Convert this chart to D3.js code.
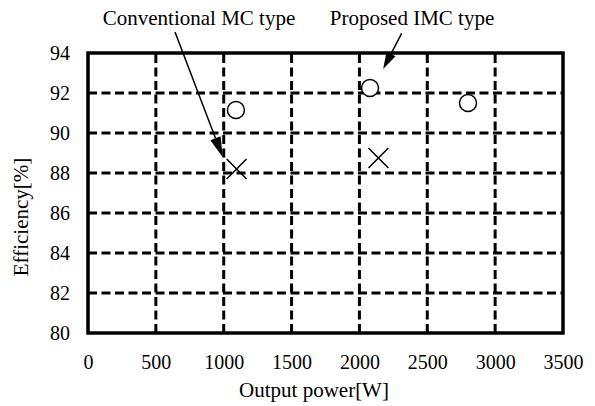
<!DOCTYPE html>
<meta charset="utf-8">
<style>
body { margin: 0; background: #fff; }
text { font-family: "Liberation Serif", "Times New Roman", serif; fill: #000; }
.grid { stroke: #000; stroke-width: 3px; stroke-dasharray: 9,4.5; }
</style>
<body>
<script src="https://d3js.org/d3.v7.min.js"></script>
<script>

// data
var xTicks = [0, 500, 1000, 1500, 2000, 2500, 3000, 3500];
var yTicks = [80, 82, 84, 86, 88, 90, 92, 94];

var proposedPower = [1090, 2078, 2800];
var proposedEff   = [91.15, 92.25, 91.5];

var convPower = [1095, 2140];
var convEff   = [88.2, 88.75];

// annotation arrows: [startPower, startEff, tipPower, tipEff]
var convArrow = [641, 95.05, 992, 88.8];
var propArrow = [2311, 94.98, 2175, 93.2];

var width = 595, height = 406;
var margin = {top: 53, right: 32, bottom: 73, left: 88};

var svg = d3.select("body").append("svg")
    .attr("width", width)
    .attr("height", height);

var x = d3.scaleLinear().domain([0, 3500]).range([margin.left, width - margin.right]);
var y = d3.scaleLinear().domain([80, 94]).range([height - margin.bottom, margin.top]);

// dashed grid
svg.append("g").selectAll("line")
    .data(yTicks.slice(1, -1))
  .enter().append("line")
    .attr("class", "grid")
    .attr("x1", x(0)).attr("x2", x(3500))
    .attr("y1", function(d) { return y(d); })
    .attr("y2", function(d) { return y(d); });

svg.append("g").selectAll("line")
    .data(xTicks.slice(1, -1))
  .enter().append("line")
    .attr("class", "grid")
    .attr("y1", y(80)).attr("y2", y(94))
    .attr("x1", function(d) { return x(d); })
    .attr("x2", function(d) { return x(d); });

// frame
svg.append("rect")
    .attr("x", x(0)).attr("y", y(94))
    .attr("width", x(3500) - x(0))
    .attr("height", y(80) - y(94))
    .attr("fill", "none")
    .attr("stroke", "#000")
    .attr("stroke-width", 3.5);

// axes (labels only)
var xAxis = svg.append("g")
    .attr("transform", "translate(0," + y(80) + ")")
    .call(d3.axisBottom(x).tickValues(xTicks).tickSize(0).tickPadding(22).tickFormat(d3.format("d")));
var yAxis = svg.append("g")
    .attr("transform", "translate(" + x(0) + ",0)")
    .call(d3.axisLeft(y).tickValues(yTicks).tickSize(0).tickPadding(18).tickFormat(d3.format("d")));
[xAxis, yAxis].forEach(function(a) {
  a.select(".domain").remove();
  a.selectAll("text").style("font-family", "Liberation Serif").style("font-size", "20px");
});

// axis titles
svg.append("text")
    .attr("x", 314).attr("y", 397)
    .attr("text-anchor", "middle")
    .style("font-size", "21px")
    .text("Output power[W]");

svg.append("text")
    .attr("transform", "translate(28,217) rotate(-90)")
    .attr("text-anchor", "middle")
    .style("font-size", "21px")
    .text("Efficiency[%]");

// proposed IMC points (circles)
svg.append("g").selectAll("circle")
    .data(proposedPower)
  .enter().append("circle")
    .attr("cx", function(d) { return x(d); })
    .attr("cy", function(d, i) { return y(proposedEff[i]); })
    .attr("r", 8.5)
    .attr("fill", "#fff")
    .attr("stroke", "#000")
    .attr("stroke-width", 1.5);

// conventional MC points (crosses)
var cross = d3.symbol().type(d3.symbolX).size(260);
svg.append("g").selectAll("path")
    .data(convPower)
  .enter().append("path")
    .attr("transform", function(d, i) { return "translate(" + x(d) + "," + y(convEff[i]) + ")"; })
    .attr("d", cross)
    .attr("fill", "none")
    .attr("stroke", "#000")
    .attr("stroke-width", 1.5);

// annotation arrows
function arrow(a, headLen, headW) {
  var x0 = x(a[0]), y0 = y(a[1]), x1 = x(a[2]), y1 = y(a[3]);
  var dx = x1 - x0, dy = y1 - y0, len = Math.sqrt(dx * dx + dy * dy);
  var ux = dx / len, uy = dy / len;
  var bx = x1 - ux * headLen, by = y1 - uy * headLen;
  svg.append("line")
      .attr("x1", x0).attr("y1", y0).attr("x2", bx).attr("y2", by)
      .attr("stroke", "#000").attr("stroke-width", 1.5);
  svg.append("path")
      .attr("d", "M" + x1 + "," + y1 +
                 "L" + (bx - uy * headW / 2) + "," + (by + ux * headW / 2) +
                 "L" + (bx + uy * headW / 2) + "," + (by - ux * headW / 2) + "Z")
      .attr("fill", "#000");
}
arrow(convArrow, 20, 11);
arrow(propArrow, 17, 10);

svg.append("text")
    .attr("x", 199).attr("y", 25)
    .attr("text-anchor", "middle")
    .style("font-size", "21px")
    .text("Conventional MC type");

svg.append("text")
    .attr("x", 412).attr("y", 25)
    .attr("text-anchor", "middle")
    .style("font-size", "21px")
    .text("Proposed IMC type");

</script>
</body>
